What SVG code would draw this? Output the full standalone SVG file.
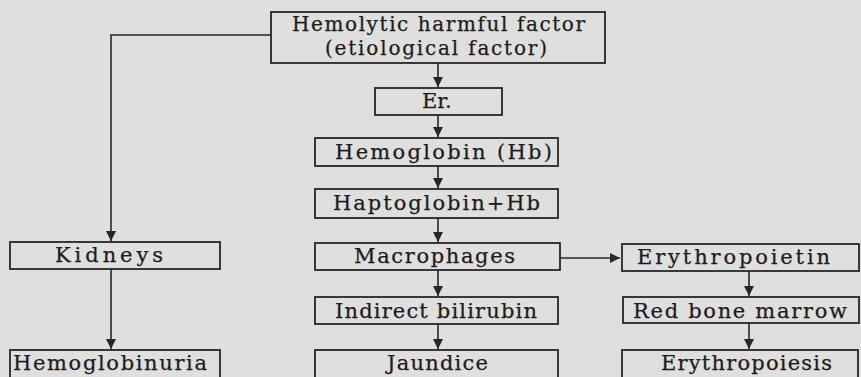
<svg xmlns="http://www.w3.org/2000/svg" width="861" height="377" viewBox="0 0 861 377">
<defs>
<style>
.bg{fill:#dfdfdd}
.box{fill:none;stroke:#262626;stroke-width:1.8}
.t{font-family:"DejaVu Serif","Liberation Serif",serif;font-size:21px;fill:#1c1c1c;stroke:#1c1c1c;stroke-width:0.25}
.s{font-size:20px}
.c{fill:none;stroke:#262626;stroke-width:1.6}
</style>
<marker id="ah" viewBox="0 0 10 10" refX="10" refY="5" markerWidth="12" markerHeight="10" markerUnits="userSpaceOnUse" orient="auto">
<path d="M0,0 L10,5 L0,10 Z" fill="#262626"/>
</marker>
</defs>
<rect class="bg" x="0" y="0" width="861" height="377"/>
<g id="connectors">
<path class="c" d="M438,63 V87" marker-end="url(#ah)"/>
<path class="c" d="M438,115 V137" marker-end="url(#ah)"/>
<path class="c" d="M438,166 V188" marker-end="url(#ah)"/>
<path class="c" d="M438,218 V242" marker-end="url(#ah)"/>
<path class="c" d="M438,270 V296" marker-end="url(#ah)"/>
<path class="c" d="M438,324 V349" marker-end="url(#ah)"/>
<path class="c" d="M271,35 H111 V241" marker-end="url(#ah)"/>
<path class="c" d="M111,269 V349" marker-end="url(#ah)"/>
<path class="c" d="M560,258 H620" marker-end="url(#ah)"/>
<path class="c" d="M749,271 V296" marker-end="url(#ah)"/>
<path class="c" d="M749,323 V349" marker-end="url(#ah)"/>
</g>
<g id="hemolytic">
<rect class="box" x="271" y="12" width="334" height="51"/>
<text class="t s" x="292" y="31" textLength="293" lengthAdjust="spacing">Hemolytic harmful factor</text>
<text class="t s" x="325" y="55" textLength="222" lengthAdjust="spacing">(etiological factor)</text>
</g>
<g id="er">
<rect class="box" x="375" y="88" width="127" height="27"/>
<text class="t" x="422" y="108">Er.</text>
</g>
<g id="hemoglobin">
<rect class="box" x="315" y="138" width="243" height="28"/>
<text class="t" x="335" y="159" textLength="217" lengthAdjust="spacing">Hemoglobin (Hb)</text>
</g>
<g id="haptoglobin">
<rect class="box" x="315" y="189" width="243" height="29"/>
<text class="t" x="333" y="210" textLength="207" lengthAdjust="spacing">Haptoglobin+Hb</text>
</g>
<g id="macrophages">
<rect class="box" x="315" y="243" width="245" height="27"/>
<text class="t" x="354" y="263" textLength="161" lengthAdjust="spacing">Macrophages</text>
</g>
<g id="bilirubin">
<rect class="box" x="315" y="297" width="243" height="27"/>
<text class="t" x="335" y="318" textLength="202" lengthAdjust="spacing">Indirect bilirubin</text>
</g>
<g id="jaundice">
<rect class="box" x="315" y="350" width="243" height="32"/>
<text class="t" x="387" y="370" textLength="101" lengthAdjust="spacing">Jaundice</text>
</g>
<g id="kidneys">
<rect class="box" x="10" y="242" width="210" height="27"/>
<text class="t" x="55" y="262" textLength="108" lengthAdjust="spacing">Kidneys</text>
</g>
<g id="hemoglobinuria">
<rect class="box" x="10" y="350" width="210" height="32"/>
<text class="t" x="13" y="370" textLength="194" lengthAdjust="spacing">Hemoglobinuria</text>
</g>
<g id="erythropoietin">
<rect class="box" x="622" y="244" width="237" height="27"/>
<text class="t" x="637" y="264" textLength="193" lengthAdjust="spacing">Erythropoietin</text>
</g>
<g id="marrow">
<rect class="box" x="623" y="297" width="236" height="26"/>
<text class="t" x="633" y="318" textLength="214" lengthAdjust="spacing">Red bone marrow</text>
</g>
<g id="erythropoiesis">
<rect class="box" x="622" y="350" width="236" height="32"/>
<text class="t" x="661" y="370" textLength="171" lengthAdjust="spacing">Erythropoiesis</text>
</g>
</svg>
